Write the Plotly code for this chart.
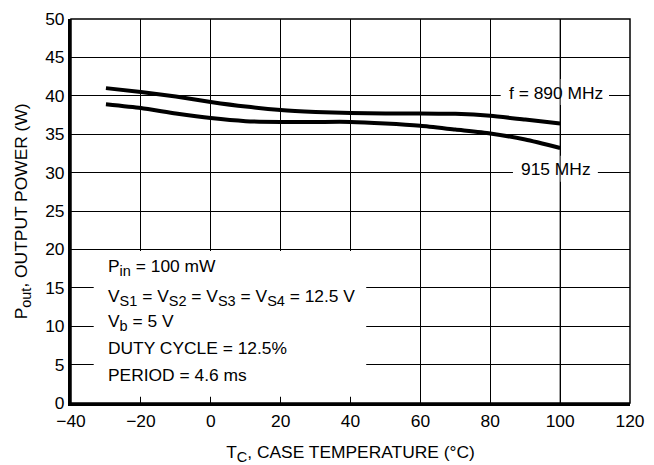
import plotly.graph_objects as go

temp_c = [-30, -20, -10, 0, 10, 20, 30, 40, 50, 60, 70, 80, 90, 100]
pout_890 = [41.0, 40.5, 39.9, 39.2, 38.6, 38.15, 37.9, 37.75, 37.7, 37.7, 37.65, 37.4, 36.9, 36.4]
pout_915 = [38.9, 38.4, 37.7, 37.1, 36.7, 36.6, 36.6, 36.6, 36.4, 36.1, 35.6, 35.1, 34.3, 33.2]

x_ticks = [-40, -20, 0, 20, 40, 60, 80, 100, 120]
y_ticks = [0, 5, 10, 15, 20, 25, 30, 35, 40, 45, 50]


def sub(s):
    return '<sub><span style="font-size:14.5px">' + s + '</span></sub>'


cond_lines = [
    "P" + sub("in") + " = 100 mW",
    "V" + sub("S1") + " = V" + sub("S2") + " = V" + sub("S3") + " = V" + sub("S4") + " = 12.5 V",
    "V" + sub("b") + " = 5 V",
    "DUTY CYCLE = 12.5%",
    "PERIOD = 4.6 ms",
]
cond_y = [17.6, 13.8, 10.5, 7.2, 3.6]

FONT = "Liberation Sans, Arial, sans-serif"
FS = 17.4

fig = go.Figure()
for series in (pout_890, pout_915):
    fig.add_trace(go.Scatter(x=temp_c, y=series, mode="lines",
                             line=dict(color="black", width=4, shape="spline", smoothing=0.6),
                             showlegend=False, hoverinfo="skip"))

shapes = [
    dict(type="rect", xref="paper", yref="paper", x0=0, x1=1, y0=0, y1=1,
         line=dict(color="black", width=1.5), layer="below"),
    dict(type="rect", xref="x", yref="y", x0=-33.5, x1=44.5, y0=0.8, y1=19.8,
         fillcolor="white", line=dict(width=0), layer="above"),
    dict(type="rect", xref="x", yref="y", x0=83, x1=114, y0=38.8, y1=42.2,
         fillcolor="white", line=dict(width=0), layer="above"),
    dict(type="rect", xref="x", yref="y", x0=86.5, x1=110.8, y0=28.8, y1=32.2,
         fillcolor="white", line=dict(width=0), layer="above"),
    dict(type="line", xref="x", yref="paper", x0=100, x1=100, y0=0, y1=1,
         line=dict(color="black", width=1), layer="above"),
]

annotations = []
for txt, yy in zip(cond_lines, cond_y):
    annotations.append(dict(x=-30, y=yy, xref="x", yref="y", text=txt, showarrow=False,
                            xanchor="left", yanchor="middle",
                            font=dict(family=FONT, size=FS, color="black")))
annotations.append(dict(x=98.7, y=40.4, xref="x", yref="y", text="f = 890 MHz", showarrow=False,
                        xanchor="center", yanchor="middle",
                        font=dict(family=FONT, size=FS, color="black")))
annotations.append(dict(x=98.7, y=30.5, xref="x", yref="y", text="915 MHz", showarrow=False,
                        xanchor="center", yanchor="middle",
                        font=dict(family=FONT, size=FS, color="black")))
# y-axis title
annotations.append(dict(x=-0.087, y=0.5, xref="paper", yref="paper",
                        text="P" + sub("out") + ", OUTPUT POWER (W)", showarrow=False,
                        textangle=-90, xanchor="center", yanchor="middle",
                        font=dict(family=FONT, size=FS, color="black")))

fig.update_layout(
    width=654, height=465,
    margin=dict(l=71, r=24, t=19, b=62),
    paper_bgcolor="white", plot_bgcolor="white",
    font=dict(family=FONT, size=FS, color="black"),
    shapes=shapes, annotations=annotations,
    xaxis=dict(range=[-40, 120], tickvals=x_ticks, showgrid=True, gridcolor="black", gridwidth=1,
               zeroline=False, showline=True, linecolor="black", linewidth=3, ticks="",
               automargin=False,
               title=dict(text="T" + sub("C") + ", CASE TEMPERATURE (°C)", standoff=17,
                          font=dict(family=FONT, size=FS)),
               tickfont=dict(family=FONT, size=FS)),
    yaxis=dict(range=[0, 50], tickvals=y_ticks, showgrid=True, gridcolor="black", gridwidth=1,
               zeroline=False, showline=True, linecolor="black", linewidth=3, ticks="",
               automargin=False,
               tickfont=dict(family=FONT, size=FS)),
)

fig.write_html("out.html")
